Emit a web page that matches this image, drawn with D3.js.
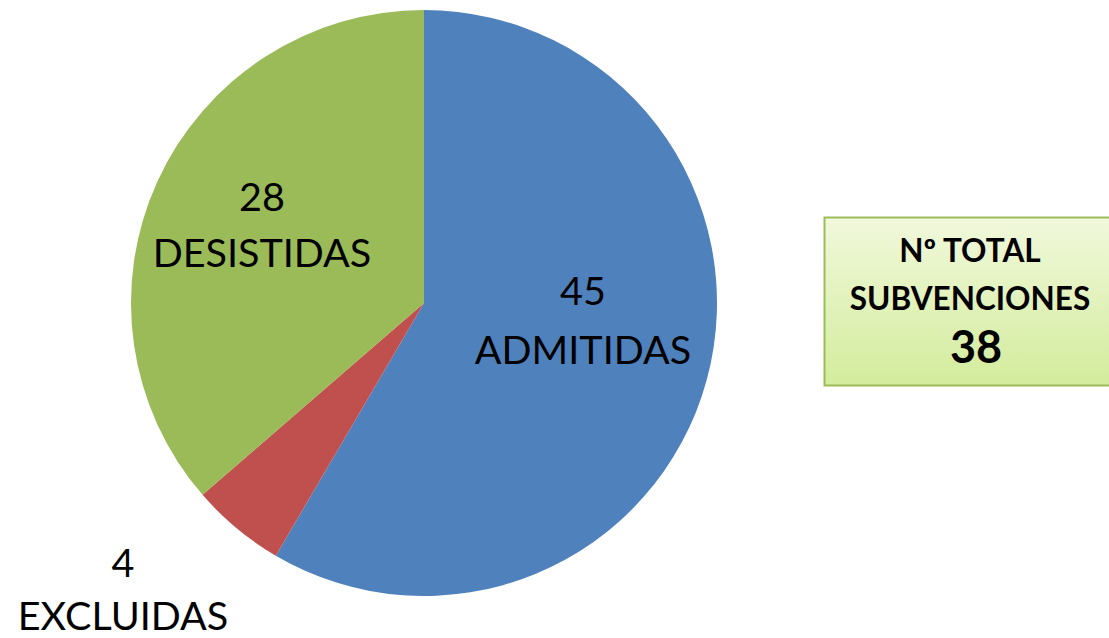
<!DOCTYPE html>
<html><head><meta charset="utf-8">
<script src="https://cdn.jsdelivr.net/npm/d3@7"></script>
<style>body{margin:0;background:#fff}svg{display:block}</style>
</head><body>
<svg id="c" width="1109" height="638"></svg>
<script>
const categories = ["ADMITIDAS", "EXCLUIDAS", "DESISTIDAS"];
const values = [45, 4, 28];
const colors = ["#4f81bd", "#c0504d", "#9bbb59"];
const boxLines = ["Nº TOTAL", "SUBVENCIONES"];
const boxTotal = "38";

const svg = d3.select("#c");
const cx = 424, cy = 303, R = 293;
const data = categories.map((c, i) => ({cat: c, v: values[i], col: colors[i]}));
const pie = d3.pie().sort(null).value(d => d.v);
const arc = d3.arc().innerRadius(0).outerRadius(R);
const g = svg.append("g").attr("transform", `translate(${cx},${cy})`);
const arcs = pie(data);
g.selectAll("path").data(arcs).enter().append("path")
  .attr("d", arc).attr("fill", d => d.data.col);

// labels
const labelPos = [[583, 305, 364], [123, 577, 630], [262, 211, 267]];
const font = "Lato, 'Open Sans', sans-serif";
arcs.forEach((a, i) => {
  const [x, y1, y2] = labelPos[i];
  svg.append("text").attr("x", x).attr("y", y1).attr("text-anchor", "middle")
    .attr("font-family", font).attr("font-size", 39.5).attr("fill", "#000").text(a.data.v);
  svg.append("text").attr("x", x).attr("y", y2).attr("text-anchor", "middle")
    .attr("font-family", font).attr("font-size", 39.5).attr("fill", "#000").text(a.data.cat);
});

// box
const defs = svg.append("defs");
const grad = defs.append("linearGradient").attr("id", "bg").attr("x1", 0).attr("y1", 0).attr("x2", 0).attr("y2", 1);
grad.append("stop").attr("offset", "0%").attr("stop-color", "#f1f8dc");
grad.append("stop").attr("offset", "100%").attr("stop-color", "#d3ec9c");
svg.append("rect").attr("x", 824.5).attr("y", 217.5).attr("width", 290).attr("height", 168)
  .attr("fill", "url(#bg)").attr("stroke", "#9bbb59").attr("stroke-width", 2);
const bx = 970;
svg.append("text").attr("x", bx).attr("y", 262).attr("text-anchor", "middle")
  .attr("font-family", font).attr("font-weight", "bold").attr("font-size", 31.5).text(boxLines[0]);
svg.append("text").attr("x", bx).attr("y", 310).attr("text-anchor", "middle")
  .attr("font-family", font).attr("font-weight", "bold").attr("font-size", 31.5).text(boxLines[1]);
svg.append("text").attr("x", bx + 6).attr("y", 363).attr("text-anchor", "middle")
  .attr("font-family", font).attr("font-weight", "bold").attr("font-size", 45).text(boxTotal);
</script>
</body></html>
